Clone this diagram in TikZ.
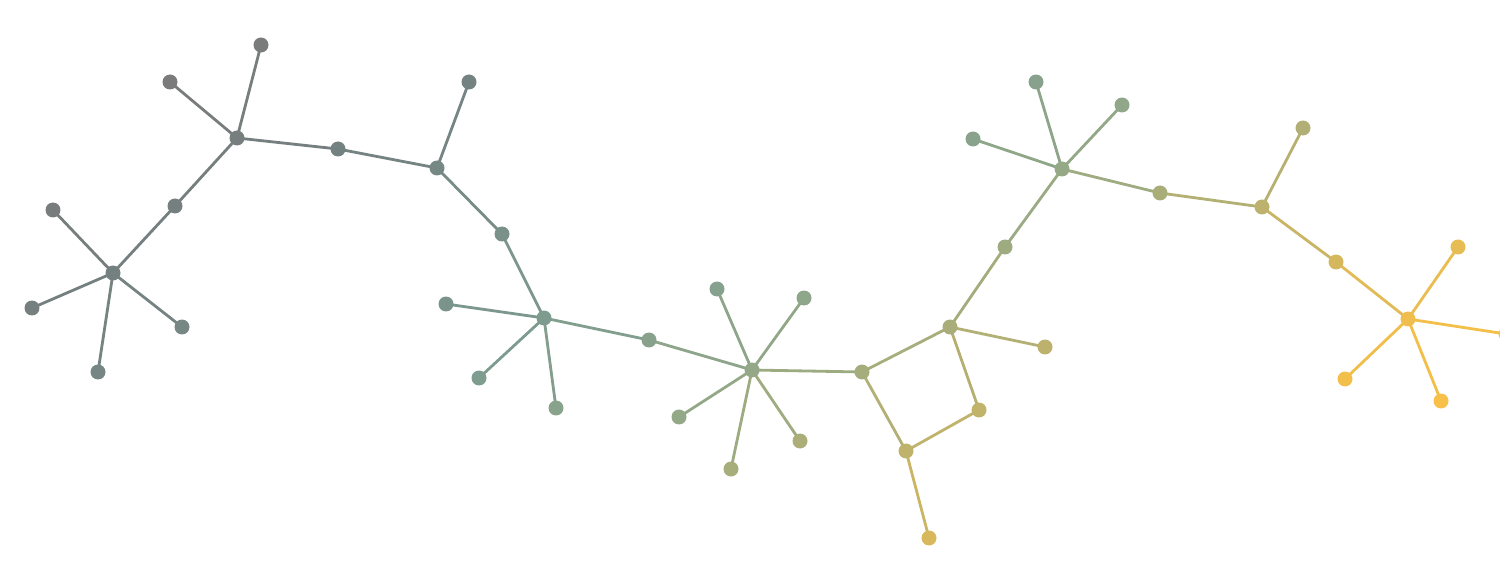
\documentclass[tikz,border=0pt]{standalone}
\usetikzlibrary{backgrounds}

\definecolor{cgray}{HTML}{7B7B7B}
\definecolor{cslate}{HTML}{738080}
\definecolor{cteal}{HTML}{7E9C90}
\definecolor{csage}{HTML}{92A888}
\definecolor{cgold}{HTML}{F8C048}

% colour of a dot from its place (top left grey, bottom right gold)
\newcommand\dotcolor[3]{%
  \pgfmathtruncatemacro\sval{#2+1.5*#3}%
  \ifnum\sval<550
    \pgfmathtruncatemacro\pmix{max(0,min(100,(550-\sval)/2.5))}%
    \xglobal\colorlet{col-#1}{cgray!\pmix!cslate}%
  \else\ifnum\sval<1050
    \pgfmathtruncatemacro\pmix{(1050-\sval)/5}%
    \xglobal\colorlet{col-#1}{cslate!\pmix!cteal}%
  \else\ifnum\sval<1300
    \pgfmathtruncatemacro\pmix{(1300-\sval)/2.5}%
    \xglobal\colorlet{col-#1}{cteal!\pmix!csage}%
  \else
    \pgfmathtruncatemacro\pmix{max(0,(1950-\sval)/6.5)}%
    \xglobal\colorlet{col-#1}{csage!\pmix!cgold}%
  \fi\fi\fi}

\begin{document}
\begin{tikzpicture}[x=0.02cm,y=-0.02cm,
  dot/.style={circle,inner sep=0pt,minimum size=0.3cm},
  edge/.style={line width=1.6pt}]
\useasboundingbox (0,0) rectangle (1500,567);

\foreach \n/\x/\y in {a1/113/273, a2/53/210, a3/32/308, a4/98/372, a5/182/327, a6/175/206,
  b1/237/138, b2/170/82, b3/261/45, b4/338/149,
  c1/437/168, c2/469/82, c3/502/234,
  d1/544/318, d2/446/304, d3/479/378, d4/556/408, d5/649/340,
  e1/752/370, e2/717/289, e3/804/298, e4/679/417, e5/731/469, e6/800/441,
  f1/862/372,
  g1/950/327, g2/1045/347, g3/979/410, g4/906/451, g5/929/538,
  h1/1005/247,
  i1/1062/169, i2/973/139, i3/1036/82, i4/1122/105,
  j1/1160/193, k1/1262/207, k2/1303/128, l1/1336/262,
  m1/1408/319, m2/1458/247, m3/1506/334, m4/1345/379, m5/1441/401} {
  \dotcolor{\n}{\x}{\y}
  \node[dot,fill=col-\n] (\n) at (\x,\y) {};
}

\begin{pgfonlayer}{background}
\foreach \a/\b in {a1/a2, a1/a3, a1/a4, a1/a5, a1/a6, a6/b1, b1/b2, b1/b3, b1/b4,
  b4/c1, c1/c2, c1/c3, c3/d1, d1/d2, d1/d3, d1/d4, d1/d5, d5/e1,
  e1/e2, e1/e3, e1/e4, e1/e5, e1/e6, e1/f1, f1/g1, f1/g4, g4/g3, g3/g1, g4/g5,
  g1/g2, g1/h1, h1/i1, i1/i2, i1/i3, i1/i4, i1/j1, j1/k1, k1/k2, k1/l1,
  l1/m1, m1/m2, m1/m3, m1/m4, m1/m5}
  \draw[edge,draw=col-\a!50!col-\b] (\a.center) -- (\b.center);
\end{pgfonlayer}
\end{tikzpicture}
\end{document}
